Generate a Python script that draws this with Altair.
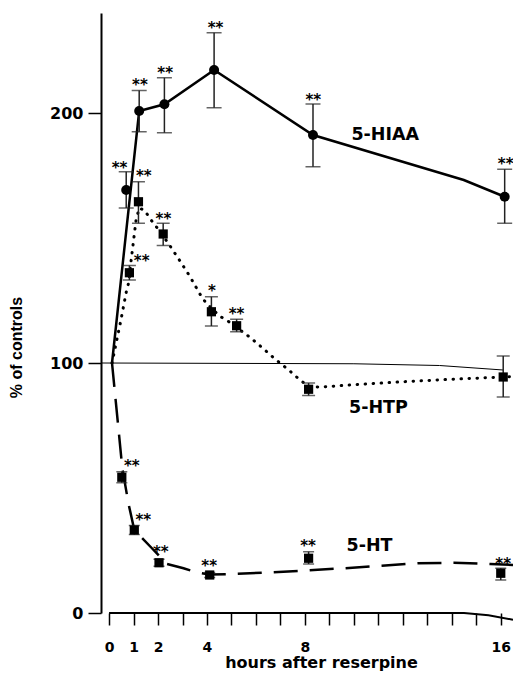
import altair as alt
import pandas as pd

# ---- data (hours after reserpine, % of controls) ----
hiaa_t = [0.70, 1.23, 2.26, 4.29, 8.33, 16.16]
hiaa_v = [169.2, 200.8, 203.5, 217.2, 191.2, 166.5]
hiaa_hi = [176.5, 209.0, 214.1, 232.1, 203.6, 177.5]
hiaa_lo = [162.0, 192.5, 192.1, 202.1, 178.5, 155.9]

htp_t = [0.83, 1.20, 2.21, 4.18, 5.21, 8.15, 16.10]
htp_v = [136.1, 164.5, 151.6, 120.5, 114.9, 89.5, 94.4]
htp_hi = [139.0, 172.5, 155.9, 126.5, 117.5, 92.0, 102.8]
htp_lo = [133.2, 155.9, 147.0, 114.8, 112.5, 87.0, 86.4]

ht_t = [0.52, 1.03, 2.04, 4.11, 8.15, 16.00]
ht_v = [54.3, 33.2, 20.1, 15.2, 21.9, 15.9]
ht_hi = [56.5, 35.0, 21.5, 16.2, 24.5, 17.9]
ht_lo = [52.1, 31.4, 18.7, 14.2, 19.6, 13.2]

# hand-drawn curves (vertices)
hiaa_curve_t = [0.12, 1.23, 2.26, 4.29, 8.33, 14.49, 16.16]
hiaa_curve_v = [100, 200.8, 203.5, 217.2, 191.2, 173.2, 166.5]

htp_curve_t = [0.12, 0.47, 0.70, 0.81, 0.90, 1.00, 1.10, 1.23, 1.46, 1.66, 1.93,
               2.44, 2.87, 3.31, 3.71, 3.94, 4.51, 4.85, 5.78, 6.09, 6.41, 6.72,
               7.03, 7.34, 7.66, 8.15, 8.66, 10.0, 12.0, 14.0, 16.1, 16.5]
htp_curve_v = [100, 116.5, 128.3, 132.5, 141.0, 149.0, 157.0, 162.0, 161.0, 157.9, 154.5,
               147.6, 141.2, 134.5, 127.6, 124.3, 118.8, 116.8, 110.1, 107.5, 104.8, 102.1,
               99.6, 97.2, 94.4, 90.5, 90.4, 91.3, 92.5, 93.5, 94.4, 94.6]

ht_curve_t = [0.12, 0.54, 0.79, 1.03, 1.75, 2.36, 3.04, 3.56, 4.11, 5.05, 7.12,
              9.59, 11.14, 12.6, 14.08, 15.57, 16.5]
ht_curve_v = [100, 58.0, 43.9, 33.2, 25.9, 19.6, 17.9, 16.3, 15.4, 15.6, 16.5,
              17.9, 18.9, 19.9, 20.1, 19.6, 19.2]

control_t = [-0.33, 10.0, 13.5, 16.1]
control_v = [100, 99.7, 99.0, 97.2]

baseline_t = [0.0, 14.5, 15.5, 16.5]
baseline_v = [0.0, 0.0, -0.9, -2.7]

# significance marks
star_text = ["**"] * 6 + ["**", "**", "**", "*", "**"] + ["**"] * 6
star_t = [0.43, 1.26, 2.29, 4.35, 8.34, 16.20,
          1.33, 1.42, 2.22, 4.20, 5.21,
          0.93, 1.40, 2.11, 4.09, 8.13, 16.10]
star_v = [179.2, 212.5, 217.2, 235.2, 206.5, 181.0,
          141.9, 175.9, 158.8, 129.9, 120.9,
          60.1, 38.3, 25.5, 20.1, 27.9, 20.8]

label_text = ["5-HIAA", "5-HTP", "5-HT"]
label_t = [9.9, 9.8, 9.7]
label_v = [191.2, 82.0, 26.7]

x_ticks = list(range(17))
x_labelled = [0, 1, 2, 4, 8, 16]
y_ticks = [0, 100, 200]

# ---- tables ----
def pts(t, v, hi, lo, shape, size, cap):
    return pd.DataFrame({"t": t, "v": v, "hi": hi, "lo": lo,
                         "shape": shape, "size": size, "cap": cap})

points = pd.concat([
    pts(hiaa_t, hiaa_v, hiaa_hi, hiaa_lo, "circle", 100, 15),
    pts(htp_t, htp_v, htp_hi, htp_lo, "square", 85, 13),
    pts(ht_t, ht_v, ht_hi, ht_lo, "square", 85, 11),
], ignore_index=True)

caps = pd.concat([
    points[["t", "hi", "cap"]].rename(columns={"hi": "v"}),
    points[["t", "lo", "cap"]].rename(columns={"lo": "v"}),
], ignore_index=True)

def curve(t, v):
    return pd.DataFrame({"t": t, "v": v})

stars = pd.DataFrame({"t": star_t, "v": star_v, "s": star_text})
labels = pd.DataFrame({"t": label_t, "v": label_v, "s": label_text})

# ---- scales & axes ----
xscale = alt.Scale(domain=[-0.33, 16.5], nice=False, zero=False)
yscale = alt.Scale(domain=[0, 240], nice=False, zero=False)

xaxis = alt.Axis(
    values=x_ticks, domain=False, grid=False,
    labelExpr="indexof(%s, datum.value) >= 0 ? datum.label : ''" % str(x_labelled),
    tickSize=12, tickWidth=1.5, tickColor="black",
    labelPadding=15, labelFont="DejaVu Sans", labelFontWeight="bold",
    labelFontSize=14, labelColor="black",
    title="hours after reserpine", titleFont="DejaVu Sans", titleFontWeight="bold",
    titleFontSize=16, titleColor="black", titleX=220, titleY=49.5,
    titleAlign="center", titleBaseline="middle",
)
yaxis = alt.Axis(
    values=y_ticks, grid=False, domain=True, domainColor="black", domainWidth=2,
    tickSize=13, tickWidth=1.5, tickColor="black",
    labelPadding=5, labelFont="DejaVu Sans", labelFontWeight="bold",
    labelFontSize=16, labelColor="black",
    title="% of controls", titleFont="Liberation Sans", titleFontWeight="bold",
    titleFontSize=16, titleColor="black", titleX=-85, titleY=334,
    titleAlign="center", titleBaseline="middle",
)

X = alt.X("t:Q", scale=xscale, axis=xaxis)
Y = alt.Y("v:Q", scale=yscale, axis=yaxis)

control = alt.Chart(curve(control_t, control_v)).mark_line(
    color="black", strokeWidth=1).encode(x=X, y=Y)
base_line = alt.Chart(curve(baseline_t, baseline_v)).mark_line(
    color="black", strokeWidth=2, clip=False).encode(x=X, y=Y)
hiaa_line = alt.Chart(curve(hiaa_curve_t, hiaa_curve_v)).mark_line(
    color="black", strokeWidth=2.5).encode(x=X, y=Y)
htp_line = alt.Chart(curve(htp_curve_t, htp_curve_v)).mark_line(
    color="black", strokeWidth=3, strokeDash=[0.5, 7.5], strokeCap="round").encode(x=X, y=Y)
ht_line = alt.Chart(curve(ht_curve_t, ht_curve_v)).mark_line(
    color="black", strokeWidth=2.5, strokeDash=[24, 12]).encode(x=X, y=Y)

err = alt.Chart(points).mark_rule(color="#222", strokeWidth=1.5).encode(
    x=X, y=alt.Y("lo:Q", scale=yscale, axis=yaxis), y2="hi:Q")
cap_marks = alt.Chart(caps).mark_tick(orient="horizontal", thickness=1.5, color="#222").encode(
    x=X, y=Y, size=alt.Size("cap:Q", scale=None, legend=None))
markers = alt.Chart(points).mark_point(filled=True, color="black", opacity=1).encode(
    x=X, y=Y,
    shape=alt.Shape("shape:N", scale=None, legend=None),
    size=alt.Size("size:Q", scale=None, legend=None))

star_marks = alt.Chart(stars).mark_text(
    font="DejaVu Sans", fontWeight="bold", fontSize=15, color="black",
    baseline="alphabetic", dy=8).encode(x=X, y=Y, text="s:N")
label_marks = alt.Chart(labels).mark_text(
    font="DejaVu Sans", fontWeight="bold", fontSize=17.5, color="black",
    align="left", baseline="middle").encode(x=X, y=Y, text="s:N")

chart = alt.layer(
    control, base_line, hiaa_line, htp_line, ht_line,
    err, cap_marks, markers, star_marks, label_marks
).properties(
    width=412, height=600,
    autosize=alt.AutoSizeParams(type="none"),
    padding={"left": 93, "top": 5, "right": 0, "bottom": 58},
    background="white",
).configure_view(stroke=None)

chart.save("out.html", embed_options={"renderer": "svg", "actions": False})
